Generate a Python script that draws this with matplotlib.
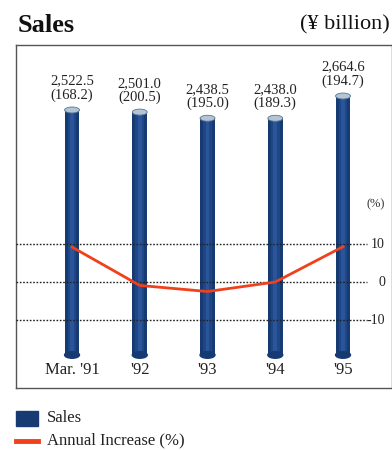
import matplotlib
matplotlib.use("Agg")
import matplotlib.pyplot as plt
from matplotlib.patches import Ellipse, Rectangle
from matplotlib.lines import Line2D

plt.rcParams['font.family'] = ['Liberation Serif', 'DejaVu Serif']

# Data
years = ["Mar. '91", "'92", "'93", "'94", "'95"]
sales = [2522.5, 2501.0, 2438.5, 2438.0, 2664.6]
net_income = [168.2, 200.5, 195.0, 189.3, 194.7]
annual_increase = [9.2, -0.9, -2.5, 0.0, 9.3]
pct_ticks = [10, 0, -10]

bar_dark = '#163a72'
bar_mid = '#1f4788'
bar_light = '#2a5699'
cap_color = '#b3c4d3'
line_color = '#f0401c'

fig = plt.figure(figsize=(3.92, 4.5), dpi=100)
W, H = 392, 450

# Panel box in pixel terms
left_px, right_px, top_px, bottom_px = 16, 392, 45, 388
ax = fig.add_axes([left_px / W, 1 - bottom_px / H,
                   (right_px - left_px) / W, (bottom_px - top_px) / H])
ax.set_xlim(-0.827, 4.723)
ax.set_ylim(-336, 3153)
ax.set_xticks([])
ax.set_yticks([])
for s in ax.spines.values():
    s.set_color('#555555')
    s.set_linewidth(1.0)

x = list(range(len(years)))
bw = 0.22
cap_h = 61  # cap height in sales units
for xi, v in zip(x, sales):
    body = v - cap_h / 2
    ax.bar(xi, body, width=bw, color=bar_dark, zorder=2)
    ax.bar(xi, body, width=bw * 0.6, color=bar_mid, zorder=2)
    ax.bar(xi, body, width=bw * 0.25, color=bar_light, zorder=2)
    # rounded bottom
    ax.add_patch(Ellipse((xi, 0), bw, cap_h * 1.1, color=bar_dark, zorder=2))
    # top cap
    ax.add_patch(Ellipse((xi, body), bw, cap_h, facecolor=cap_color,
                         edgecolor='#5a7696', linewidth=0.6, zorder=3))

for xi, v, n in zip(x, sales, net_income):
    ax.annotate(f"{v:,.1f}\n({n:.1f})", (xi, v), xytext=(0, 3.5),
                textcoords='offset points', ha='center', va='bottom',
                fontsize=10.5, linespacing=1.1, color='#222222')

for xi, lab in zip(x, years):
    ax.text(xi, -150, lab, ha='center', va='center', fontsize=12,
            color='#222222')

# Percentage axis
ax2 = ax.twinx()
ax2.set_ylim(-27.9, 62.4)
ax2.set_xlim(ax.get_xlim())
ax2.set_yticks([])
ax2.axis('off')
for t in pct_ticks:
    ax2.plot([-0.827, 4.35], [t, t], linestyle=(0, (1.2, 1.2)),
             color='#222222', linewidth=1.0, zorder=1)
    ax2.text(4.62, t, f"{t}", ha='right', va='center', fontsize=10,
             color='#222222')
ax2.text(4.62, 20.5, "(%)", ha='right', va='center', fontsize=9,
         color='#333333')
ax2.plot(x, annual_increase, color=line_color, linewidth=2.0, zorder=4)

# Header
fig.text(18 / W, 1 - 25 / H, "Sales", fontsize=19, fontweight='bold',
         ha='left', va='center', color='#111111')
fig.text(390 / W, 1 - 25 / H, "(¥ billion)", fontsize=16,
         ha='right', va='center', color='#111111')

# Legend
fig.patches.append(Rectangle((16 / W, 1 - 426 / H), 22 / W, 15 / H,
                             transform=fig.transFigure, color=bar_dark))
fig.text(47 / W, 1 - 418 / H, "Sales", fontsize=12, ha='left', va='center',
         color='#222222')
fig.lines.append(Line2D([16 / W, 38 / W], [1 - 441 / H, 1 - 441 / H],
                        transform=fig.transFigure, color=line_color,
                        linewidth=3.5))
fig.text(47 / W, 1 - 440 / H, "Annual Increase (%)", fontsize=12,
         ha='left', va='center', color='#222222')

fig.savefig("out.png", dpi=100)
